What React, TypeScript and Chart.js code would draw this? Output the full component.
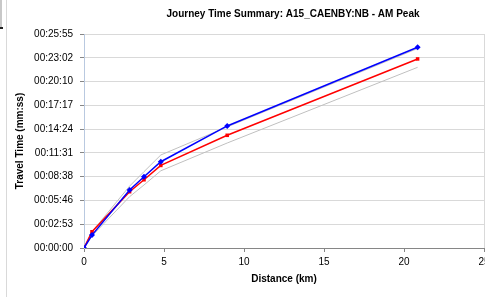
import React, { useEffect, useRef } from "react";
import { Chart, registerables } from "chart.js";

Chart.register(...registerables);

const titleText = "Journey Time Summary: A15_CAENBY:NB - AM Peak";
const xTitle = "Distance (km)";
const yTitle = "Travel Time (mm:ss)";

const distanceKm = [0, 0.5, 2.85, 3.75, 4.8, 8.95, 20.85];
const observedSec = [0, 94, 421, 518, 627, 887, 1459];
const modelledSec = [0, 118, 409, 496, 600, 819, 1374];
const upperSec = [0, 118, 450, 555, 676, 880, 1450];
const lowerSec = [0, 88, 373, 458, 561, 763, 1313];

const yMax = 1555.2;
const yStep = 172.8;
const xMax = 25;
const xStep = 5;

const FONT = "'Liberation Sans', Arial, sans-serif";

function fmt(v: number) {
  const s = Math.round(v);
  const h = Math.floor(s / 3600);
  const m = Math.floor((s % 3600) / 60);
  const sec = s % 60;
  const p = (n: number) => String(n).padStart(2, "0");
  return `${p(h)}:${p(m)}:${p(sec)}`;
}

function pts(xs: number[], ys: number[]) {
  return xs.map((x, i) => ({ x, y: ys[i] }));
}

const titlePlugin = {
  id: "customTitle",
  afterDraw(chart: any) {
    const { ctx, chartArea } = chart;
    ctx.save();
    ctx.font = `bold 10px ${FONT}`;
    ctx.fillStyle = "#000";
    ctx.textAlign = "center";
    ctx.textBaseline = "middle";
    ctx.fillText(titleText, (chartArea.left + chartArea.right) / 2 + 9, 14);
    ctx.restore();
  },
};

export default function App() {
  const ref = useRef<HTMLCanvasElement>(null);
  useEffect(() => {
    document.documentElement.style.overflow = "hidden";
    const chart = new Chart(ref.current!, {
      type: "line",
      data: {
        datasets: [
          {
            label: "Observed",
            data: pts(distanceKm, observedSec),
            borderColor: "#0000ff",
            backgroundColor: "#0000ff",
            borderWidth: 1.5,
            pointStyle: "rectRot",
            pointRadius: 3,
            pointBorderWidth: 0,
          },
          {
            label: "Modelled",
            data: pts(distanceKm, modelledSec),
            borderColor: "#ff0000",
            backgroundColor: "#ff0000",
            borderWidth: 1.5,
            pointStyle: "rect",
            pointRadius: 2.5,
            pointBorderWidth: 0,
          },
          {
            label: "Upper",
            data: pts(distanceKm, upperSec),
            borderColor: "#c0c0c0",
            borderWidth: 1,
            pointRadius: 0,
          },
          {
            label: "Lower",
            data: pts(distanceKm, lowerSec),
            borderColor: "#c0c0c0",
            borderWidth: 1,
            pointRadius: 0,
          },
        ],
      },
      options: {
        animation: false,
        responsive: false,
        layout: { padding: { top: 34, right: 16, left: 0, bottom: 0 } },
        plugins: {
          legend: { display: false },
          title: { display: false },
          tooltip: { enabled: false },
        },
        scales: {
          x: {
            type: "linear",
            min: 0,
            max: xMax,
            ticks: { stepSize: xStep, color: "#000", font: { family: FONT, size: 10 }, padding: 4 },
            grid: {
              drawOnChartArea: true,
              color: (c: any) => (c.tick && c.tick.value === xMax ? "#d9d9d9" : "rgba(0,0,0,0)"),
              tickColor: "#868686",
              tickLength: 4,
            },
            border: { color: "#868686", width: 1 },
            title: {
              display: true,
              text: xTitle,
              color: "#000",
              font: { family: FONT, size: 10, weight: "bold" },
              padding: { top: 0, bottom: 12 },
            },
            afterFit: (s: any) => {
              s.height = 49;
            },
          },
          y: {
            type: "linear",
            min: 0,
            max: yMax,
            ticks: {
              stepSize: yStep,
              color: "#000",
              font: { family: FONT, size: 10 },
              padding: 7,
              callback: (v: any) => fmt(Number(v)),
            },
            grid: { color: "#d9d9d9", tickColor: "#868686", tickLength: 4 },
            border: { color: "#b9c9e0", width: 1 },
            title: {
              display: true,
              text: yTitle,
              color: "#000",
              font: { family: FONT, size: 10, weight: "bold" },
              padding: { top: 14, bottom: 0 },
            },
            afterFit: (s: any) => {
              s.width = 84;
            },
          },
        },
      },
      plugins: [titlePlugin],
    });
    return () => chart.destroy();
  }, []);
  return (
    <div style={{ position: "fixed", left: 0, top: 0, width: 500, height: 297, background: "#fff" }}>
      <canvas ref={ref} width={500} height={297} style={{ width: 500, height: 297, display: "block" }} />
      <div style={{ position: "absolute", left: 6, top: 0, width: 1, height: 297, background: "#d9d9d9" }} />
      <div style={{ position: "absolute", left: 0, top: 0, width: 2, height: 28, background: "#c8c8c8" }} />
      <div style={{ position: "absolute", left: 0, top: 27, width: 3, height: 2, background: "#222" }} />
    </div>
  );
}
